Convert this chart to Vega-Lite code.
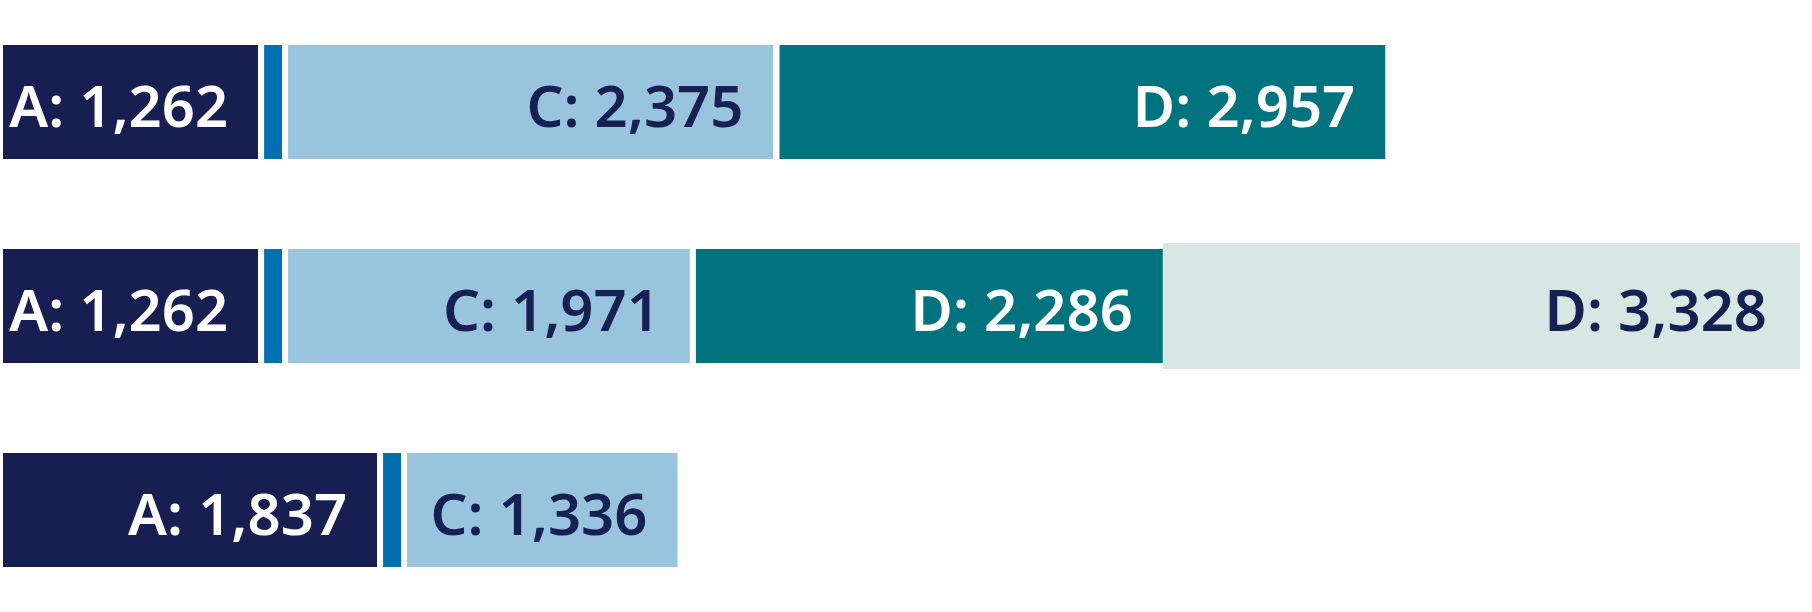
{
  "$schema": "https://vega.github.io/schema/vega-lite/v6.json",
  "width": 1800,
  "height": 612,
  "autosize": "none",
  "padding": 0,
  "background": "white",
  "config": {"view": {"stroke": null}},
  "data": {
    "values": [
      {"row": "1", "seg": "A", "value": 1262, "label": "A: 1,262"},
      {"row": "1", "seg": "B", "value": 116, "label": ""},
      {"row": "1", "seg": "C", "value": 2375, "label": "C: 2,375"},
      {"row": "1", "seg": "D", "value": 2957, "label": "D: 2,957"},
      {"row": "2", "seg": "A", "value": 1262, "label": "A: 1,262"},
      {"row": "2", "seg": "B", "value": 116, "label": ""},
      {"row": "2", "seg": "C", "value": 1971, "label": "C: 1,971"},
      {"row": "2", "seg": "D", "value": 2286, "label": "D: 2,286"},
      {"row": "2", "seg": "D2", "value": 3328, "label": "D: 3,328"},
      {"row": "3", "seg": "A", "value": 1837, "label": "A: 1,837"},
      {"row": "3", "seg": "B", "value": 116, "label": ""},
      {"row": "3", "seg": "C", "value": 1336, "label": "C: 1,336"}
    ]
  },
  "transform": [
    {"stack": "value", "groupby": ["row"], "sort": [{"field": "seg", "order": "ascending"}], "as": ["x0", "x1"]}
  ],
  "encoding": {
    "y": {
      "field": "row",
      "type": "nominal",
      "sort": "ascending",
      "axis": null,
      "scale": {"paddingInner": 0.4118, "paddingOuter": 0.2059}
    }
  },
  "layer": [
    {
      "mark": {"type": "bar", "strokeWidth": 6},
      "encoding": {
        "x": {"field": "x0", "type": "quantitative", "axis": null, "scale": {"domain": [0, 8700], "clamp": true, "nice": false, "zero": true}},
        "x2": {"field": "x1"},
        "color": {
          "field": "seg",
          "type": "nominal",
          "legend": null,
          "scale": {"domain": ["A", "B", "C", "D", "D2"], "range": ["#171f52", "#0070b0", "#98c4dd", "#00737f", "#d9e7e4"]}
        },
        "stroke": {
          "condition": {"test": "datum.seg === 'D2'", "value": "#d9e7e4"},
          "value": "white"
        }
      }
    },
    {
      "mark": {"type": "text", "align": "right", "baseline": "alphabetic", "dx": -33, "dy": 25, "font": "Noto Sans", "fontWeight": 600, "fontSize": 58},
      "encoding": {
        "x": {"field": "x1", "type": "quantitative"},
        "text": {"field": "label"},
        "color": {
          "condition": {"test": "datum.seg === 'A' || datum.seg === 'D'", "value": "#ffffff"},
          "value": "#172053"
        }
      }
    }
  ]
}
